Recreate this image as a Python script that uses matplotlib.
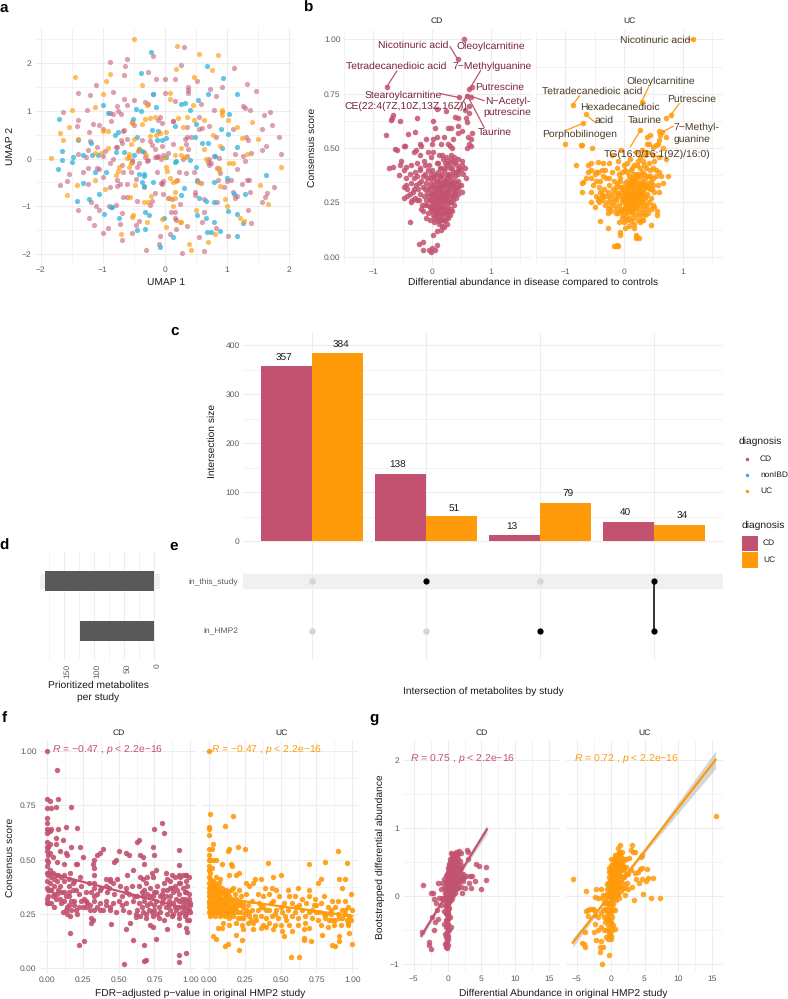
import numpy as np
import matplotlib
matplotlib.use('Agg')
import matplotlib.pyplot as plt
from matplotlib.patches import Rectangle
from matplotlib.transforms import ScaledTranslation

plt.rcParams['font.family'] = ['Liberation Sans', 'DejaVu Sans']
plt.rcParams['mathtext.fontset'] = 'custom'
plt.rcParams['mathtext.it'] = 'Liberation Sans:italic'
plt.rcParams['mathtext.rm'] = 'Liberation Sans'
plt.rcParams['text.hinting'] = 'no_hinting'

W, H = 788, 999
PINK = '#C2526F'
ORANGE = '#FF9A0A'
BLUE = '#2FB4DC'
GRID = '#EDEDED'
TICK = '#5A5A5A'

# panel a, UMAP coordinates
umap_uc = np.array([[-0.5,2.5],[0.2,2.36],[0.55,2.2],[0.86,2.18],[0.77,1.86],[0.18,1.88],[-0.88,1.78],[-1.45,1.72],[-0.95,1.63],[0.47,1.72],
    [-0.37,1.55],[-1.0,1.35],[0.09,1.37],[0.09,1.25],[0.46,1.12],[-1.13,1.08],[-1.49,1.03],[-0.28,1.13],[0.93,1.03],[0.93,0.97],
    [0.93,0.92],[0.22,0.85],[0.36,0.88],[-0.32,0.84],[-0.24,0.86],[-0.15,0.87],[1.03,0.8],[0.63,0.82],[0.47,0.8],[-1.54,0.67],
    [1.16,0.66],[1.41,0.77],[-1.69,0.54],[-1.0,0.57],[-0.91,0.58],[-0.52,0.75],[-0.37,0.72],[0.3,0.66],[0.78,0.49],[-0.24,0.48],
    [-0.07,0.53],[0.03,0.55],[-0.14,0.5],[1.25,0.43],[1.5,0.42],[-1.39,0.41],[-0.55,0.3],[-0.49,0.42],[-1.64,0.38],[-0.92,0.22],
    [-0.41,0.2],[0.27,0.22],[0.63,0.21],[0.9,0.26],[1.33,0.1],[-1.12,0.12],[-1.03,0.12],[-0.58,0.1],[-0.3,0.08],[0.17,0.08],
    [0.26,0.08],[0.33,0.03],[0.01,0.03],[-1.84,0.02],[-0.57,0.04],[-0.6,0.01],[0.67,-0.01],[1.04,-0.1],[1.1,-0.1],[1.87,-0.18],
    [0.87,-0.2],[0.88,-0.24],[-0.55,-0.1],[-0.57,-0.17],[-0.73,-0.17],[-0.75,-0.25],[-0.78,-0.35],[0.02,-0.18],[0.04,-0.27],[0.08,-0.4],
    [0.18,-0.46],[-1.41,-0.56],[-1.13,-0.44],[-0.96,-0.63],[-0.48,-0.55],[0.13,-0.5],[0.54,-0.5],[0.9,-0.57],[1.53,-0.55],[0.97,-0.84],
    [-1.57,-0.77],[-0.56,-0.81],[-0.22,-0.79],[0.07,-0.82],[0.16,-0.83],[0.16,-0.7],[1.67,-0.96],[-0.33,-0.92],[-0.27,-0.92],[0.14,-0.99],
    [1.0,-0.99],[0.5,-1.08],[-0.51,-1.18],[-0.53,-1.22],[-0.04,-1.27],[-0.28,-1.33],[0.24,-1.33],[0.27,-1.34],[1.21,-1.24],[1.28,-1.31],
    [0.03,-1.44],[-0.7,-1.59],[0.82,-1.59],[0.7,-1.75],[0.39,-1.79],[0.43,-1.92]])
umap_nonibd = np.array([[-0.22,2.24],[0.68,1.94],[-0.38,1.8],[0.94,1.69],[-0.19,1.36],[0.7,1.36],[1.16,1.35],[0.54,1.23],[0.26,1.14],[0.33,1.17],
    [-1.0,1.12],[-0.46,1.05],[-0.38,0.99],[-0.14,1.08],[0.41,1.01],[-0.92,0.95],[1.04,0.94],[-1.71,0.84],[-0.51,0.84],[0.17,0.68],
    [0.51,0.72],[0.91,0.63],[1.03,0.52],[-0.2,0.6],[-0.1,0.57],[-0.8,0.5],[-0.75,0.55],[-0.44,0.46],[-0.13,0.38],[-0.05,0.38],
    [0.03,0.43],[0.49,0.46],[-1.39,0.38],[-1.19,0.33],[0.6,0.33],[0.7,0.33],[0.93,0.22],[1.16,0.25],[-1.66,0.15],[-0.79,0.14],
    [-0.66,0.14],[-0.41,0.2],[-0.37,0.16],[-1.31,0.08],[-1.17,0.08],[-1.08,0.08],[-0.5,0.08],[0.03,0.03],[0.18,-0.05],[0.17,-0.08],
    [0.41,-0.03],[0.82,0.05],[-1.65,-0.02],[-1.48,0.03],[-1.49,-0.08],[-1.72,-0.21],[-1.13,-0.28],[-0.94,-0.29],[-0.41,-0.32],[-0.33,-0.32],
    [-0.34,-0.37],[0.5,-0.18],[1.0,-0.4],[1.63,-0.34],[0.53,-0.47],[0.8,-0.5],[-1.32,-0.52],[-0.37,-0.5],[-0.18,-0.5],[-0.34,-0.57],
    [0.31,-0.62],[0.27,-0.76],[1.12,-0.74],[1.3,-0.74],[-1.06,-0.74],[-1.22,-0.84],[0.55,-0.83],[0.67,-0.88],[0.8,-0.91],[-1.41,-0.89],
    [-0.87,-1.01],[-0.85,-1.02],[-0.32,-1.13],[-0.25,-1.18],[-0.98,-1.16],[-0.74,-1.25],[0.52,-1.19],[0.66,-1.24],[1.03,-1.09],[1.16,-1.17],
    [-0.01,-1.25],[0.8,-1.33],[1.26,-1.35],[-0.44,-1.5],[-0.31,-1.47],[0.68,-1.55],[0.74,-1.53],[0.89,-1.52],[1.16,-1.62],[0.14,-1.64],[-0.07,-1.85]])
umap_cd = np.array([[0.32,2.35],[-0.19,2.15],[-0.61,2.08],[-0.88,2.03],[-0.64,1.95],[0.27,1.97],[1.12,1.91],[-0.26,1.81],[-0.66,1.76],[-0.14,1.66],
    [0.0,1.68],[0.16,1.67],[0.52,1.63],[0.37,1.5],[0.37,1.43],[0.73,1.46],[0.92,1.5],[1.33,1.56],[1.48,1.42],[-1.39,1.38],
    [-1.11,1.54],[-1.2,1.34],[-0.83,1.39],[-0.19,1.36],[0.0,1.38],[0.37,1.38],[0.83,1.31],[-0.66,1.25],[-0.49,1.24],[-0.32,1.19],
    [-0.27,1.15],[-0.61,1.12],[-0.77,1.1],[-1.25,1.03],[0.16,1.21],[0.59,1.14],[0.8,1.02],[1.26,1.1],[1.3,1.06],[1.38,1.01],
    [1.7,0.98],[1.6,0.91],[-1.64,0.98],[-0.88,0.96],[-0.83,0.93],[-0.75,1.0],[-0.7,0.93],[-0.08,0.88],[-0.1,0.82],[0.14,0.78],
    [0.56,0.87],[0.6,0.65],[0.56,0.63],[0.71,0.68],[1.1,0.62],[1.57,0.62],[1.73,0.7],[-1.39,0.8],[-1.41,0.69],[-1.15,0.73],
    [-1.06,0.7],[-1.0,0.62],[-1.22,0.56],[-0.86,0.78],[-0.66,0.6],[-0.67,0.57],[-0.5,0.7],[-0.52,0.77],[-0.05,0.74],[0.13,0.78],
    [0.36,0.66],[1.31,0.46],[1.34,0.39],[1.84,0.46],[-0.6,0.42],[-0.71,0.4],[-0.68,0.32],[-0.36,0.4],[-0.24,0.37],[-0.05,0.27],
    [0.14,0.31],[0.36,0.46],[0.42,0.45],[0.33,0.42],[0.83,0.45],[0.34,0.3],[0.38,0.2],[-1.09,0.24],[-1.21,0.37],[-1.24,0.18],
    [-0.96,0.17],[-0.78,0.24],[-0.76,0.24],[-0.43,0.15],[-0.33,0.13],[-0.15,0.2],[-0.2,0.29],[0.05,0.12],[0.72,0.0],[0.8,0.05],
    [0.87,0.02],[1.13,0.1],[1.26,0.05],[1.4,0.11],[1.57,0.18],[1.63,0.27],[1.88,0.1],[-1.4,0.1],[-1.26,0.04],[-1.0,0.05],
    [-0.83,0.0],[-0.53,-0.02],[-0.52,-0.07],[-0.32,0.03],[-0.26,-0.03],[-0.15,0.03],[-0.12,0.04],[-0.1,0.06],[-0.06,0.0],[-0.02,0.07],
    [0.29,0.0],[0.36,0.05],[0.7,-0.08],[0.75,-0.1],[1.17,-0.22],[1.3,-0.04],[-1.23,-0.2],[-1.09,-0.19],[-1.05,-0.22],[-0.88,-0.09],
    [-0.69,-0.13],[-0.45,-0.18],[-0.42,-0.09],[-0.29,-0.04],[-0.12,-0.28],[0.23,-0.29],[0.34,-0.3],[0.48,-0.28],[0.72,-0.13],[0.84,-0.2],
    [0.9,-0.3],[1.0,-0.47],[1.07,-0.44],[-1.54,-0.32],[-1.32,-0.28],[-0.99,-0.38],[-0.67,-0.28],[-0.54,-0.28],[-0.76,-0.44],[-0.72,-0.54],
    [-0.46,-0.42],[-0.06,-0.52],[-0.04,-0.53],[-0.03,-0.48],[0.2,-0.45],[0.53,-0.45],[0.58,-0.52],[0.86,-0.45],[0.96,-0.6],[1.24,-0.54],
    [1.33,-0.45],[1.36,-0.44],[1.38,-0.7],[1.62,-0.81],[1.65,-0.72],[1.57,-0.91],[1.76,-0.6],[-1.69,-0.56],[-1.58,-0.48],[-1.24,-0.53],
    [-0.88,-0.6],[-0.77,-0.58],[-0.61,-0.53],[-0.67,-0.8],[-0.61,-0.81],[-0.34,-0.6],[-0.16,-0.72],[-0.03,-0.74],[0.05,-0.83],[0.12,-0.85],
    [0.49,-0.7],[0.49,-0.77],[0.63,-0.85],[0.85,-0.92],[1.11,-0.7],[1.13,-0.83],[1.16,-0.78],[-1.18,-0.9],[-1.1,-0.99],[-1.06,-1.07],
    [-0.78,-0.98],[-0.9,-1.0],[-0.45,-0.88],[-0.21,-0.88],[-0.24,-0.97],[0.1,-1.12],[0.17,-1.13],[0.24,-0.96],[0.63,-1.13],[1.35,-1.07],
    [-1.4,-1.07],[-1.22,-1.25],[-0.69,-1.15],[-0.42,-1.3],[-0.46,-1.4],[0.17,-1.25],[0.19,-1.28],[0.36,-1.41],[0.6,-1.32],[0.83,-1.45],
    [1.39,-1.36],[-1.14,-1.4],[-0.91,-1.45],[-1.0,-1.57],[-0.72,-1.37],[-0.52,-1.57],[-0.08,-1.63],[0.08,-1.58],[0.18,-1.48],[0.56,-1.65],
    [1.03,-1.63],[-0.69,-1.7],[-0.3,-1.91],[-0.09,-1.8],[0.28,-1.97],[0.64,-1.94]])

# panel b, differential abundance vs consensus score
abund_cd = np.array([[0.55,1.0],[0.44,0.91],[-0.77,0.78],[0.63,0.77],[0.68,0.78],[0.47,0.735],[0.6,0.74],[0.66,0.735],[0.63,0.695],[0.56,0.675],
    [0.63,0.66],[0.39,0.645],[0.44,0.64],[0.58,0.64],[-0.68,0.64],[-0.69,0.63],[-0.67,0.65],[-0.54,0.625],[-0.25,0.64],[0.02,0.625],
    [0.08,0.68],[0.24,0.67],[0.6,0.62],[-0.79,0.56],[-0.4,0.565],[-0.29,0.575],[0.05,0.59],[0.28,0.59],[0.32,0.59],[0.45,0.6],
    [0.52,0.58],[0.68,0.57],[0.44,0.57],[0.36,0.54],[0.2,0.55],[0.02,0.54],[0.08,0.55],[0.62,0.55],[0.66,0.54],[-0.63,0.495],
    [-0.6,0.49],[-0.48,0.51],[-0.46,0.51],[-0.2,0.52],[-0.19,0.51],[-0.1,0.54],[0.0,0.52],[0.15,0.52],[0.28,0.52],[0.31,0.51],
    [0.35,0.5],[0.64,0.52],[0.67,0.51],[0.6,0.5],[-0.74,0.41],[-0.66,0.415],[-0.53,0.44],[-0.54,0.42],[-0.45,0.415],[-0.47,0.4],
    [-0.3,0.48],[-0.27,0.49],[-0.2,0.47],[-0.07,0.48],[-0.02,0.46],[0.02,0.48],[0.12,0.47],[-0.25,0.43],[-0.14,0.44],[-0.05,0.42],
    [0.0,0.4],[0.08,0.43],[0.13,0.41],[0.19,0.45],[0.28,0.44],[0.33,0.45],[0.38,0.43],[0.43,0.42],[0.52,0.42],[0.57,0.41],
    [0.23,0.41],[0.3,0.41],[0.36,0.39],[0.41,0.39],[0.47,0.41],[0.53,0.38],[0.58,0.36],[0.26,0.38],[0.18,0.38],[0.12,0.37],
    [0.06,0.38],[0.01,0.36],[-0.04,0.36],[-0.11,0.38],[-0.2,0.4],[-0.25,0.37],[-0.3,0.36],[-0.37,0.38],[-0.45,0.36],[-0.56,0.375],
    [-0.45,0.33],[-0.42,0.31],[-0.36,0.34],[-0.33,0.3],[-0.38,0.29],[-0.48,0.32],[-0.27,0.33],[-0.22,0.34],[-0.16,0.32],[-0.1,0.34],
    [-0.05,0.32],[0.02,0.33],[0.07,0.35],[0.13,0.34],[0.2,0.35],[0.26,0.34],[0.33,0.35],[0.38,0.35],[0.45,0.35],[0.5,0.33],
    [0.07,0.31],[0.13,0.31],[0.19,0.32],[0.25,0.31],[0.31,0.32],[0.37,0.31],[0.42,0.32],[0.05,0.28],[0.1,0.28],[0.16,0.29],
    [0.22,0.28],[0.28,0.29],[0.34,0.28],[0.39,0.29],[0.51,0.3],[-0.02,0.29],[-0.08,0.3],[-0.14,0.28],[-0.21,0.29],[-0.26,0.26],
    [-0.34,0.26],[-0.36,0.25],[-0.47,0.27],[-0.17,0.24],[-0.1,0.26],[-0.04,0.26],[0.02,0.25],[0.08,0.25],[0.13,0.26],[0.19,0.25],
    [0.25,0.26],[0.31,0.25],[0.36,0.26],[-0.02,0.22],[0.04,0.22],[0.09,0.22],[0.15,0.23],[0.21,0.22],[0.27,0.23],[0.33,0.22],
    [-0.18,0.22],[-0.16,0.21],[-0.07,0.2],[0.01,0.19],[0.07,0.19],[0.12,0.2],[0.18,0.19],[0.24,0.2],[0.3,0.19],[0.04,0.16],
    [0.1,0.165],[0.16,0.17],[0.22,0.165],[0.27,0.18],[-0.37,0.16],[0.2,0.135],[0.16,0.125],[0.09,0.12],[0.02,0.1],[-0.22,0.06],
    [-0.16,0.07],[-0.16,0.03],[-0.05,0.03],[-0.02,0.02],[0.06,0.03],[0.08,0.055],[0.0,0.04]])
abund_cd_dense = np.array([[0.1,0.43],[0.16,0.41],[0.22,0.43],[0.26,0.42],[0.31,0.43],[0.35,0.41],[0.4,0.44],[0.45,0.4],[0.5,0.4],[0.11,0.39],
    [0.15,0.37],[0.2,0.4],[0.24,0.36],[0.29,0.38],[0.33,0.37],[0.39,0.37],[0.44,0.38],[0.03,0.37],[0.09,0.35],[0.14,0.36],
    [0.17,0.34],[0.23,0.35],[0.28,0.36],[0.31,0.34],[0.36,0.33],[0.41,0.34],[0.47,0.33],[-0.01,0.34],[0.04,0.32],[0.1,0.33],
    [0.16,0.32],[0.21,0.33],[0.27,0.33],[0.33,0.33],[0.39,0.32],[0.45,0.31],[-0.03,0.31],[0.02,0.3],[0.08,0.3],[0.11,0.32],
    [0.15,0.3],[0.2,0.3],[0.24,0.3],[0.29,0.31],[0.34,0.3],[0.4,0.3],[0.44,0.29],[-0.06,0.28],[0.0,0.28],[0.03,0.29],
    [0.07,0.27],[0.12,0.29],[0.14,0.27],[0.19,0.28],[0.24,0.27],[0.26,0.29],[0.31,0.27],[0.36,0.28],[0.41,0.27],[-0.08,0.24],
    [-0.01,0.26],[0.0,0.24],[0.05,0.26],[0.1,0.25],[0.11,0.27],[0.16,0.26],[0.21,0.26],[0.23,0.24],[0.28,0.25],[0.33,0.25],
    [0.38,0.24],[-0.03,0.23],[0.02,0.23],[0.06,0.24],[0.11,0.23],[0.13,0.24],[0.18,0.23],[0.24,0.22],[0.29,0.21],[0.35,0.21],
    [0.0,0.21],[0.05,0.2],[0.08,0.21],[0.13,0.22],[0.16,0.2],[0.21,0.2],[0.27,0.2],[0.03,0.18],[0.09,0.18],[0.14,0.18],
    [0.19,0.17],[0.24,0.18],[-0.1,0.18],[-0.04,0.17],[0.12,0.15],[0.18,0.14],[0.26,0.15],[-0.21,0.41],[-0.12,0.42],[-0.06,0.4],
    [-0.02,0.38],[-0.16,0.37],[-0.08,0.36],[-0.29,0.39],[-0.35,0.42],[-0.19,0.35],[-0.12,0.31],[-0.24,0.31],[-0.3,0.31],[-0.43,0.28],
    [-0.29,0.27],[-0.22,0.26],[-0.12,0.24],[0.17,0.47],[0.24,0.46],[0.32,0.47],[0.38,0.46],[0.44,0.45],[0.51,0.44]])
abund_uc = np.array([[1.17,1.0],[0.3,0.71],[-0.87,0.7],[0.8,0.65],[0.71,0.64],[-0.64,0.655],[-0.7,0.615],[0.28,0.585],[0.65,0.575],[0.6,0.58],
    [0.44,0.56],[0.4,0.55],[0.62,0.56],[0.72,0.55],[0.6,0.535],[0.58,0.52],[0.4,0.52],[0.43,0.52],[0.55,0.515],[0.49,0.505],
    [-1.0,0.52],[-0.73,0.515],[-0.71,0.515],[-0.54,0.5],[-0.05,0.49],[0.2,0.48],[0.3,0.49],[0.39,0.48],[0.66,0.5],[0.5,0.47],
    [-0.2,0.47],[-0.1,0.44],[0.1,0.45],[0.28,0.46],[0.33,0.44],[0.42,0.43],[0.51,0.44],[0.59,0.46],[0.72,0.45],[-0.82,0.42],
    [-0.62,0.42],[-0.57,0.43],[-0.45,0.435],[-0.36,0.43],[-0.25,0.43],[-0.12,0.41],[0.0,0.42],[0.17,0.42],[0.27,0.41],[0.38,0.41],
    [0.5,0.41],[-0.62,0.39],[-0.56,0.4],[-0.5,0.38],[-0.44,0.39],[-0.32,0.4],[-0.2,0.39],[-0.08,0.38],[0.05,0.39],[0.15,0.38],
    [0.24,0.38],[0.34,0.38],[0.44,0.37],[0.54,0.37],[0.64,0.37],[0.75,0.37],[0.6,0.39],[-0.72,0.34],[-0.7,0.345],[-0.57,0.36],
    [-0.48,0.35],[-0.4,0.35],[-0.3,0.36],[-0.17,0.35],[-0.06,0.35],[0.05,0.35],[0.14,0.35],[0.22,0.36],[0.3,0.35],[0.4,0.34],
    [0.5,0.33],[0.58,0.33],[0.66,0.34],[-0.72,0.3],[-0.57,0.3],[-0.42,0.32],[-0.34,0.31],[-0.25,0.33],[-0.13,0.32],[-0.03,0.32],
    [0.08,0.32],[0.16,0.33],[0.25,0.32],[0.34,0.31],[0.44,0.31],[0.52,0.3],[0.6,0.3],[-0.47,0.28],[-0.43,0.27],[-0.37,0.29],
    [-0.29,0.28],[-0.2,0.29],[-0.1,0.29],[0.0,0.29],[0.08,0.29],[0.15,0.3],[0.22,0.29],[0.3,0.28],[0.38,0.28],[0.46,0.27],
    [-0.56,0.25],[-0.42,0.25],[-0.36,0.26],[-0.28,0.25],[-0.2,0.25],[-0.13,0.26],[-0.04,0.26],[0.03,0.26],[0.1,0.26],[0.18,0.26],
    [0.26,0.26],[0.33,0.25],[0.42,0.25],[-0.28,0.22],[-0.22,0.21],[-0.14,0.22],[-0.05,0.22],[0.02,0.23],[0.09,0.23],[0.16,0.23],
    [0.22,0.23],[0.3,0.22],[0.38,0.22],[0.46,0.22],[0.56,0.21],[-0.27,0.2],[-0.1,0.2],[-0.02,0.19],[0.06,0.2],[0.13,0.2],
    [0.2,0.19],[0.28,0.19],[0.36,0.19],[0.56,0.19],[-0.41,0.165],[-0.08,0.16],[0.0,0.16],[0.06,0.17],[0.12,0.165],[0.18,0.15],
    [0.27,0.16],[0.32,0.17],[0.47,0.145],[-0.28,0.13],[0.02,0.13],[0.09,0.14],[0.17,0.13],[-0.06,0.115],[-0.07,0.1],[0.2,0.1],
    [0.2,0.085],[0.22,0.09],[0.26,0.085],[-0.17,0.05],[-0.14,0.05],[-0.12,0.055],[-0.1,0.05]])
abund_uc_dense = np.array([[0.12,0.4],[0.2,0.38],[0.31,0.39],[0.08,0.37],[0.12,0.36],[0.18,0.36],[0.27,0.37],[0.36,0.36],[0.41,0.37],[0.49,0.36],
    [0.02,0.34],[0.08,0.34],[0.11,0.33],[0.16,0.35],[0.2,0.34],[0.24,0.34],[0.28,0.33],[0.32,0.34],[0.36,0.33],[0.44,0.33],
    [-0.06,0.32],[0.0,0.31],[0.05,0.32],[0.11,0.31],[0.14,0.32],[0.18,0.31],[0.21,0.32],[0.27,0.31],[0.3,0.3],[0.36,0.32],
    [0.41,0.32],[0.48,0.31],[-0.14,0.3],[-0.05,0.3],[0.03,0.3],[0.06,0.3],[0.1,0.29],[0.13,0.29],[0.17,0.28],[0.2,0.3],
    [0.25,0.3],[0.28,0.28],[0.33,0.29],[0.4,0.29],[-0.24,0.27],[-0.16,0.27],[-0.08,0.28],[-0.02,0.27],[0.01,0.28],[0.05,0.27],
    [0.08,0.27],[0.12,0.28],[0.15,0.27],[0.19,0.28],[0.23,0.27],[0.26,0.28],[0.31,0.26],[0.36,0.27],[-0.33,0.24],[-0.24,0.23],
    [-0.17,0.24],[-0.08,0.24],[-0.01,0.25],[0.04,0.24],[0.07,0.25],[0.11,0.24],[0.14,0.25],[0.17,0.24],[0.21,0.25],[0.25,0.24],
    [0.29,0.25],[0.35,0.24],[0.4,0.24],[0.49,0.24],[-0.14,0.2],[-0.05,0.21],[0.0,0.21],[0.04,0.22],[0.07,0.21],[0.11,0.22],
    [0.14,0.21],[0.18,0.22],[0.24,0.21],[0.33,0.2],[0.41,0.2],[0.52,0.23],[-0.04,0.18],[0.03,0.18],[0.09,0.18],[0.15,0.18],
    [0.24,0.17],[0.3,0.17],[-0.44,0.26],[-0.5,0.23],[-0.35,0.28],[-0.41,0.3],[-0.27,0.3],[-0.18,0.31],[-0.11,0.34],[-0.26,0.36],
    [-0.35,0.37],[-0.52,0.33],[-0.64,0.36],[-0.47,0.39],[-0.38,0.4],[-0.06,0.36],[-0.03,0.39],[0.02,0.4],[0.14,0.41],[0.23,0.42],
    [0.34,0.42],[0.44,0.4],[0.55,0.4],[0.36,0.47],[0.24,0.44],[0.46,0.35],[0.06,0.43]])

b_cd_labels = ['Nicotinuric acid', 'Oleoylcarnitine', 'Tetradecanedioic acid', '7\u2212Methylguanine', 'Putrescine',
               'Stearoylcarnitine', 'N\u2212Acetyl-\nputrescine', 'CE(22:4(7Z,10Z,13Z,16Z))', 'Taurine']
b_cd_label_x = [-0.326, 1.01, -0.617, 1.034, 1.16, -0.497, 1.29, -0.45, 1.08]
b_cd_label_y = [0.974, 0.966, 0.877, 0.874, 0.781, 0.742, 0.689, 0.692, 0.574]
b_cd_links = [[0.31, 0.966, 0.44, 0.908], [-0.6, 0.854, -0.77, 0.782], [0.83, 0.856, 0.64, 0.77],
              [0.15, 0.75, 0.47, 0.732], [0.89, 0.718, 0.6, 0.744], [0.89, 0.595, 0.6, 0.744], [0.45, 0.675, 0.6, 0.744]]
b_uc_labels = ['Nicotinuric acid', 'Oleoylcarnitine', 'Tetradecanedioic acid', 'Putrescine', 'Hexadecanedioic', 'acid',
               'Taurine', '7\u2212Methyl-', 'guanine', 'Porphobilinogen', 'TG(16:0/16:1(9Z)/16:0)']
b_uc_label_x = [0.54, 0.636, -0.54, 1.148, -0.074, -0.347, 0.352, 1.233, 1.159, -0.756, 0.574]
b_uc_label_y = [0.997, 0.805, 0.759, 0.725, 0.686, 0.629, 0.627, 0.597, 0.538, 0.564, 0.469]
b_uc_links = [[1.07, 1.0, 1.17, 1.0], [0.42, 0.78, 0.3, 0.712], [-0.76, 0.739, -0.87, 0.7], [0.94, 0.703, 0.8, 0.653],
              [-0.49, 0.617, -0.6, 0.642], [-1.0, 0.58, -0.69, 0.615], [0.11, 0.506, 0.28, 0.581], [0.84, 0.6, 0.64, 0.572]]

# panel c and e, upset plot
intersections = [0, 1, 2, 3]
cd_sizes = [357, 138, 13, 40]
uc_sizes = [384, 51, 79, 34]
set_names = ['in_HMP2', 'in_this_study']
members = [[], [1], [0], [0, 1]]

# panel d
study_sizes = [124, 182]

# panel f, FDR p value vs consensus score
fdr_cd = np.array([[0.0,1.0],[0.07,0.91],[0.0,0.78],[0.02,0.77],[0.08,0.78],[0.0,0.735],[0.03,0.735],[0.06,0.74],[0.17,0.74],[0.0,0.69],
    [0.0,0.67],[0.0,0.64],[0.01,0.63],[0.02,0.63],[0.03,0.64],[0.08,0.64],[0.13,0.65],[0.21,0.645],[0.8,0.67],[0.75,0.64],
    [0.82,0.62],[0.64,0.59],[0.63,0.58],[0.06,0.6],[0.11,0.59],[0.0,0.58],[0.01,0.56],[0.02,0.57],[0.06,0.57],[0.09,0.54],
    [0.17,0.56],[0.23,0.56],[0.39,0.55],[0.5,0.54],[0.55,0.53],[0.57,0.52],[0.65,0.52],[0.67,0.51],[0.74,0.56],[0.92,0.545],
    [0.0,0.54],[0.01,0.52],[0.02,0.53],[0.04,0.51],[0.13,0.53],[0.14,0.52],[0.25,0.51],[0.33,0.5],[0.35,0.52],[0.37,0.53],
    [0.47,0.49],[0.48,0.5],[0.75,0.52],[0.0,0.47],[0.02,0.45],[0.04,0.44],[0.07,0.49],[0.08,0.43],[0.12,0.48],[0.2,0.48],
    [0.21,0.48],[0.32,0.48],[0.33,0.46],[0.56,0.43],[0.6,0.45],[0.68,0.48],[0.73,0.44],[0.76,0.45],[0.92,0.475],[0.0,0.44],
    [0.03,0.42],[0.06,0.43],[0.1,0.42],[0.12,0.43],[0.16,0.44],[0.23,0.42],[0.33,0.43],[0.41,0.41],[0.44,0.41],[0.49,0.41],
    [0.65,0.42],[0.67,0.41],[0.7,0.42],[0.74,0.42],[0.83,0.44],[0.87,0.43],[0.92,0.43],[0.97,0.43],[0.99,0.42],[0.0,0.4],
    [0.02,0.39],[0.05,0.38],[0.09,0.38],[0.12,0.4],[0.15,0.38],[0.19,0.4],[0.24,0.38],[0.29,0.39],[0.33,0.39],[0.38,0.37],
    [0.43,0.37],[0.46,0.39],[0.51,0.38],[0.55,0.37],[0.59,0.38],[0.64,0.38],[0.69,0.39],[0.72,0.37],[0.77,0.38],[0.82,0.39],
    [0.86,0.4],[0.89,0.38],[0.93,0.39],[0.97,0.4],[0.02,0.36],[0.05,0.34],[0.08,0.36],[0.12,0.35],[0.15,0.35],[0.18,0.36],
    [0.22,0.34],[0.27,0.35],[0.31,0.35],[0.35,0.34],[0.42,0.35],[0.47,0.34],[0.52,0.33],[0.57,0.34],[0.61,0.33],[0.66,0.35],
    [0.7,0.34],[0.75,0.35],[0.8,0.34],[0.84,0.36],[0.88,0.35],[0.92,0.34],[0.96,0.35],[0.99,0.34],[0.0,0.32],[0.03,0.3],
    [0.06,0.32],[0.09,0.32],[0.12,0.31],[0.15,0.33],[0.19,0.31],[0.24,0.31],[0.28,0.3],[0.33,0.31],[0.37,0.3],[0.41,0.31],
    [0.46,0.3],[0.5,0.31],[0.55,0.3],[0.6,0.31],[0.64,0.3],[0.68,0.31],[0.72,0.3],[0.76,0.31],[0.81,0.32],[0.85,0.31],
    [0.88,0.3],[0.92,0.31],[0.95,0.3],[0.98,0.31],[1.0,0.3],[0.05,0.28],[0.11,0.26],[0.14,0.28],[0.17,0.27],[0.2,0.27],
    [0.25,0.28],[0.3,0.27],[0.35,0.28],[0.39,0.27],[0.44,0.27],[0.48,0.26],[0.53,0.27],[0.57,0.26],[0.63,0.27],[0.67,0.26],
    [0.71,0.27],[0.75,0.27],[0.79,0.26],[0.83,0.28],[0.86,0.27],[0.9,0.27],[0.94,0.26],[0.97,0.27],[1.0,0.26],[0.14,0.25],
    [0.16,0.24],[0.21,0.25],[0.31,0.23],[0.31,0.21],[0.32,0.22],[0.45,0.205],[0.58,0.21],[0.62,0.235],[0.65,0.24],[0.69,0.23],
    [0.74,0.24],[0.78,0.23],[0.82,0.22],[0.87,0.24],[0.92,0.23],[0.96,0.24],[0.99,0.22],[0.72,0.2],[0.74,0.19],[0.84,0.18],
    [0.92,0.2],[0.97,0.185],[0.98,0.165],[0.55,0.18],[0.76,0.135],[0.16,0.16],[0.22,0.105],[0.26,0.125],[0.6,0.13],[0.68,0.105],
    [0.92,0.06],[0.97,0.07],[0.68,0.035],[0.69,0.04],[0.54,0.02],[0.92,0.03]])
fdr_cd_dense = np.array([[0.01,0.36],[0.01,0.3],[0.03,0.36],[0.04,0.33],[0.07,0.34],[0.1,0.35],[0.1,0.3],[0.13,0.33],[0.15,0.29],[0.17,0.31],
    [0.13,0.27],[0.19,0.29],[0.22,0.28],[0.26,0.32],[0.3,0.29],[0.33,0.37],[0.33,0.33],[0.33,0.27],[0.37,0.36],[0.41,0.38],
    [0.44,0.4],[0.52,0.29],[0.62,0.25],[0.66,0.28],[0.67,0.33],[0.69,0.25],[0.7,0.29],[0.73,0.26],[0.74,0.33],[0.75,0.29],
    [0.77,0.25],[0.78,0.28],[0.8,0.3],[0.81,0.36],[0.83,0.33],[0.84,0.25],[0.85,0.29],[0.86,0.33],[0.87,0.37],[0.88,0.25],
    [0.89,0.42],[0.89,0.28],[0.9,0.32],[0.91,0.36],[0.92,0.28],[0.92,0.25],[0.93,0.42],[0.94,0.32],[0.95,0.28],[0.95,0.37],
    [0.96,0.32],[0.97,0.35],[0.97,0.25],[0.98,0.29],[0.98,0.38],[0.99,0.27],[0.99,0.32],[1.0,0.29],[0.98,0.22],[0.97,0.43],
    [0.95,0.43],[0.92,0.39],[0.86,0.37],[0.84,0.41],[0.79,0.33],[0.76,0.35],[0.72,0.33],[0.68,0.36],[0.63,0.33],[0.55,0.35],
    [0.44,0.28],[0.41,0.29],[0.37,0.27],[0.27,0.28],[0.27,0.31],[0.2,0.36],[0.18,0.39],[0.15,0.41],[0.07,0.4],[0.05,0.41],
    [0.01,0.43],[0.01,0.33],[0.0,0.37],[0.0,0.3],[0.0,0.62],[0.0,0.5],[0.01,0.49],[0.0,0.56]])
fdr_uc = np.array([[0.0,1.0],[0.01,0.71],[0.17,0.7],[0.11,0.655],[0.0,0.65],[0.0,0.64],[0.0,0.615],[0.0,0.55],[0.02,0.55],[0.03,0.57],
    [0.13,0.54],[0.14,0.55],[0.2,0.56],[0.25,0.55],[0.9,0.54],[0.0,0.52],[0.01,0.5],[0.03,0.5],[0.05,0.5],[0.09,0.48],
    [0.0,0.47],[0.02,0.46],[0.15,0.48],[0.16,0.47],[0.41,0.485],[0.7,0.48],[0.81,0.49],[0.96,0.485],[0.0,0.42],[0.01,0.41],
    [0.03,0.4],[0.05,0.42],[0.08,0.41],[0.14,0.43],[0.19,0.43],[0.21,0.44],[0.45,0.42],[0.5,0.43],[0.32,0.41],[0.36,0.41],
    [0.78,0.41],[0.76,0.39],[0.91,0.41],[0.95,0.41],[0.26,0.39],[0.28,0.38],[0.02,0.38],[0.04,0.37],[0.06,0.38],[0.09,0.37],
    [0.12,0.36],[0.17,0.37],[0.21,0.36],[0.31,0.39],[0.39,0.37],[0.44,0.37],[0.47,0.36],[0.55,0.36],[0.62,0.37],[0.7,0.36],
    [0.93,0.37],[0.99,0.34],[0.0,0.35],[0.02,0.34],[0.04,0.35],[0.06,0.34],[0.08,0.33],[0.11,0.34],[0.14,0.33],[0.18,0.34],
    [0.22,0.33],[0.26,0.34],[0.34,0.34],[0.38,0.33],[0.42,0.34],[0.49,0.33],[0.56,0.33],[0.6,0.33],[0.65,0.32],[0.7,0.33],
    [0.74,0.32],[0.8,0.33],[0.86,0.31],[0.9,0.31],[0.95,0.31],[0.0,0.31],[0.02,0.3],[0.04,0.31],[0.07,0.3],[0.09,0.29],
    [0.12,0.3],[0.15,0.31],[0.18,0.3],[0.21,0.31],[0.24,0.3],[0.3,0.31],[0.35,0.3],[0.45,0.31],[0.52,0.3],[0.58,0.3],
    [0.63,0.29],[0.68,0.3],[0.73,0.29],[0.78,0.3],[0.83,0.28],[0.88,0.28],[0.93,0.27],[0.97,0.28],[0.0,0.28],[0.01,0.26],
    [0.03,0.27],[0.05,0.28],[0.07,0.26],[0.1,0.27],[0.13,0.27],[0.16,0.28],[0.19,0.27],[0.22,0.26],[0.26,0.27],[0.3,0.27],
    [0.34,0.27],[0.38,0.28],[0.42,0.27],[0.47,0.27],[0.51,0.26],[0.55,0.27],[0.6,0.26],[0.65,0.27],[0.7,0.26],[0.75,0.26],
    [0.8,0.25],[0.85,0.25],[0.9,0.25],[0.95,0.25],[1.0,0.27],[0.01,0.24],[0.04,0.24],[0.08,0.24],[0.11,0.24],[0.14,0.23],
    [0.17,0.24],[0.2,0.23],[0.24,0.23],[0.28,0.24],[0.32,0.24],[0.36,0.24],[0.4,0.23],[0.44,0.24],[0.48,0.23],[0.53,0.24],
    [0.58,0.24],[0.62,0.23],[0.67,0.24],[0.72,0.23],[0.76,0.22],[0.81,0.23],[0.86,0.22],[0.91,0.23],[0.96,0.22],[0.99,0.22],
    [0.1,0.21],[0.14,0.2],[0.19,0.21],[0.23,0.2],[0.27,0.21],[0.31,0.21],[0.38,0.2],[0.42,0.21],[0.46,0.2],[0.5,0.2],
    [0.56,0.2],[0.62,0.2],[0.66,0.18],[0.7,0.185],[0.78,0.2],[0.83,0.19],[0.87,0.2],[0.92,0.2],[0.97,0.21],[0.06,0.185],
    [0.09,0.185],[0.24,0.18],[0.31,0.18],[0.36,0.185],[0.4,0.19],[0.45,0.18],[0.51,0.17],[0.52,0.15],[0.58,0.17],[0.66,0.14],
    [0.66,0.13],[0.71,0.125],[0.79,0.155],[0.91,0.15],[0.98,0.16],[0.91,0.125],[0.03,0.15],[0.05,0.135],[0.19,0.155],[0.23,0.13],
    [0.11,0.1],[0.13,0.11],[0.21,0.085],[0.86,0.105],[0.88,0.1],[1.0,0.11],[0.57,0.05],[0.63,0.05]])
fdr_uc_dense = np.array([[0.0,0.39],[0.0,0.37],[0.0,0.33],[0.0,0.3],[0.0,0.26],[0.01,0.38],[0.01,0.36],[0.01,0.33],[0.01,0.29],[0.01,0.28],
    [0.02,0.4],[0.02,0.36],[0.02,0.32],[0.02,0.28],[0.02,0.25],[0.03,0.38],[0.03,0.33],[0.03,0.29],[0.04,0.39],[0.04,0.33],
    [0.04,0.29],[0.04,0.26],[0.05,0.36],[0.05,0.3],[0.05,0.26],[0.06,0.36],[0.06,0.32],[0.06,0.28],[0.07,0.39],[0.07,0.35],
    [0.07,0.32],[0.07,0.28],[0.08,0.31],[0.08,0.27],[0.09,0.35],[0.09,0.31],[0.09,0.25],[0.1,0.35],[0.1,0.32],[0.1,0.29],
    [0.11,0.3],[0.11,0.26],[0.12,0.33],[0.12,0.28],[0.12,0.25],[0.13,0.35],[0.13,0.31],[0.13,0.29],[0.14,0.28],[0.14,0.25],
    [0.15,0.36],[0.15,0.27],[0.16,0.32],[0.16,0.26],[0.17,0.29],[0.18,0.28],[0.18,0.26],[0.19,0.32],[0.2,0.29],[0.2,0.26],
    [0.22,0.29],[0.22,0.23],[0.24,0.28],[0.25,0.25],[0.27,0.29],[0.28,0.26],[0.29,0.22],[0.33,0.22],[0.36,0.28],[0.4,0.27],
    [0.43,0.3],[0.46,0.25],[0.5,0.28],[0.54,0.22],[0.61,0.28],[0.67,0.21],[0.72,0.27],[0.77,0.26],[0.82,0.25],[0.85,0.27],
    [0.88,0.22],[0.93,0.23],[0.95,0.27],[0.98,0.24],[0.97,0.2],[0.84,0.22],[0.75,0.29],[0.0,0.45],[0.0,0.5],[0.01,0.44]])
fdr_cd_line_x = [0.0, 1.0]
fdr_cd_line_y = [0.44, 0.27]
fdr_uc_line_x = [0.0, 1.0]
fdr_uc_line_y = [0.33, 0.24]

# panel g, HMP2 abundance vs bootstrapped abundance
boot_cd = np.array([[-3.7,0.16],[-2.4,0.05],[-2.2,0.05],[-1.5,0.2],[-2.0,-0.04],[-3.8,-0.52],[-2.7,-0.67],[-2.7,-0.71],[-2.4,-0.77],[-2.3,-0.3],
    [-2.0,-0.5],[-1.9,-0.37],[-1.7,-0.1],[-1.6,-0.2],[-1.4,-0.33],[-1.3,-0.02],[-1.0,-0.13],[-1.0,0.1],[-0.9,0.2],[-0.9,-0.02],
    [-0.7,-0.06],[-0.6,0.25],[-0.6,0.12],[-0.5,-0.02],[-0.5,-0.22],[-0.5,-0.4],[-0.4,0.05],[-0.4,-0.55],[-0.4,-0.7],[-0.3,-0.75],
    [-0.3,0.18],[-0.3,0.02],[-0.3,-0.1],[-0.3,-0.25],[-0.3,-0.35],[-0.2,-0.45],[-0.2,-0.6],[-0.2,0.3],[-0.1,0.2],[-0.1,0.1],
    [-0.1,-0.05],[-0.1,-0.15],[-0.1,-0.28],[-0.1,-0.42],[-0.1,-0.52],[-0.1,-0.66],[-0.1,-0.76],[0.0,0.36],[0.0,0.25],[0.0,0.15],
    [0.0,0.05],[0.0,-0.05],[0.0,-0.2],[0.0,-0.33],[0.0,-0.48],[0.0,-0.62],[0.1,0.33],[0.1,0.22],[0.1,0.12],[0.1,0.0],
    [0.1,-0.12],[0.1,-0.25],[0.2,0.4],[0.2,0.28],[0.2,0.17],[0.2,0.07],[0.2,-0.03],[0.2,-0.17],[0.3,-0.3],[0.3,0.5],
    [0.3,0.35],[0.3,0.22],[0.3,0.1],[0.3,0.0],[0.5,0.52],[0.5,0.42],[0.5,0.32],[0.5,0.2],[0.5,0.08],[0.5,-0.05],
    [0.7,0.62],[0.7,0.45],[0.7,0.35],[0.7,0.25],[0.7,0.15],[0.7,0.04],[0.5,-0.45],[0.9,0.5],[0.9,0.4],[0.9,0.28],
    [0.9,0.18],[0.9,0.1],[1.0,0.6],[1.1,0.45],[1.1,0.33],[1.1,0.22],[1.1,0.05],[1.2,0.65],[1.3,0.55],[1.3,0.4],
    [1.3,0.3],[1.3,0.18],[1.3,0.1],[1.5,0.62],[1.5,0.47],[1.5,0.35],[1.5,0.22],[1.6,0.12],[1.7,0.67],[1.8,0.52],
    [1.8,0.38],[1.8,0.25],[1.9,0.63],[2.0,0.42],[2.0,0.14],[2.1,0.05],[2.2,0.32],[2.3,0.22],[2.4,0.28],[2.6,0.12],
    [2.7,0.3],[2.8,0.68],[3.0,0.65],[3.0,0.54],[3.1,0.2],[3.3,0.3],[3.4,0.12],[3.6,0.3],[4.1,0.23],[4.2,0.47],
    [4.7,0.45],[4.9,0.1],[5.7,0.43],[5.7,0.24]])
boot_cd_dense = np.array([[-0.4,0.12],[-0.4,-0.03],[-0.2,0.22],[-0.2,0.08],[-0.2,-0.02],[-0.2,-0.14],[-0.2,-0.25],[-0.15,-0.35],[-0.05,0.3],[-0.05,0.02],
    [-0.05,-0.1],[-0.05,-0.22],[-0.05,-0.35],[-0.05,-0.56],[-0.25,-0.68],[0.05,0.28],[0.05,0.18],[0.05,0.09],[0.05,-0.02],[0.05,-0.16],
    [0.05,-0.28],[0.05,-0.4],[0.15,0.37],[0.15,0.25],[0.15,0.14],[0.15,0.03],[0.15,-0.08],[0.25,0.44],[0.25,0.31],[0.25,0.19],
    [0.25,0.08],[0.25,-0.06],[0.35,0.42],[0.35,0.28],[0.35,0.15],[0.35,0.05],[0.4,0.47],[0.4,0.36],[0.4,0.24],[0.4,0.12],
    [0.4,0.02],[0.6,0.57],[0.6,0.46],[0.6,0.37],[0.6,0.28],[0.6,0.17],[0.6,0.06],[0.6,-0.02],[0.8,0.55],[0.8,0.44],
    [0.8,0.34],[0.8,0.22],[0.8,0.12],[0.8,0.02],[1.0,0.5],[1.0,0.38],[1.0,0.27],[1.0,0.16],[1.0,0.08],[1.2,0.52],
    [1.2,0.42],[1.2,0.26],[1.2,0.14],[1.4,0.6],[1.4,0.5],[1.4,0.4],[1.4,0.28],[1.4,0.14],[1.6,0.55],[1.6,0.42],
    [1.6,0.3],[1.7,0.2],[1.9,0.46],[1.9,0.33],[2.1,0.25],[0.0,0.42],[-0.1,0.33],[0.15,0.48],[0.35,0.55],[0.55,0.63],
    [0.9,0.62],[0.2,-0.5],[0.1,-0.58],[0.0,-0.72],[-0.15,-0.25],[-0.25,-0.15]])
boot_uc = np.array([[15.5,1.17],[-5.6,0.25],[-3.6,0.08],[-2.2,0.11],[-1.4,0.11],[-2.3,-0.01],[-1.8,-0.02],[-1.3,-0.03],[-3.7,-0.22],[-3.4,-0.2],
    [-3.4,-0.29],[-3.0,-0.18],[-2.6,-0.18],[-2.4,-0.2],[-2.3,-0.28],[-3.8,-0.53],[-2.5,-0.52],[-2.3,-0.4],[-1.9,-0.3],[-1.8,-0.49],
    [-1.5,-0.45],[-2.1,-0.64],[-1.4,-0.65],[-4.2,-0.69],[-3.9,-0.7],[-3.8,-0.74],[-1.6,-0.74],[-1.6,-0.82],[-1.1,-0.75],[-0.3,-0.86],
    [-1.3,-0.99],[-1.0,-0.1],[-1.0,-0.3],[-1.0,-0.5],[-0.8,0.02],[-0.8,-0.18],[-0.8,-0.38],[-0.7,-0.6],[-0.6,0.18],[-0.6,-0.08],
    [-0.6,-0.28],[-0.6,-0.5],[-0.5,0.1],[-0.4,0.05],[-0.4,-0.12],[-0.4,-0.22],[-0.4,-0.42],[-0.4,-0.62],[-0.3,0.36],[-0.3,0.2],
    [-0.2,0.28],[-0.2,0.12],[-0.2,0.0],[-0.2,-0.15],[-0.2,-0.33],[-0.2,-0.5],[-0.1,0.22],[-0.1,0.06],[-0.1,-0.08],[0.0,0.46],
    [0.0,0.33],[0.0,0.15],[0.0,-0.02],[0.0,-0.22],[0.0,-0.42],[0.0,-0.58],[0.2,0.42],[0.2,0.27],[0.2,0.1],[0.2,-0.06],
    [0.2,-0.3],[0.2,-0.5],[0.4,0.38],[0.4,0.2],[0.4,0.05],[0.4,-0.12],[0.5,0.55],[0.5,0.32],[0.5,0.15],[0.5,0.0],
    [0.7,0.6],[0.7,0.47],[0.7,0.26],[0.7,0.08],[0.8,0.4],[0.8,0.18],[0.8,-0.05],[1.0,0.52],[1.0,0.33],[1.0,0.12],
    [1.1,0.7],[1.1,0.44],[1.1,0.25],[1.1,0.03],[1.3,0.64],[1.3,0.36],[1.3,0.18],[1.4,0.75],[1.4,0.55],[1.4,0.3],
    [1.5,0.08],[1.6,0.47],[1.6,0.22],[1.7,0.65],[1.8,0.38],[1.8,0.12],[2.0,0.54],[2.0,0.28],[2.1,0.02],[2.3,0.43],
    [2.4,0.2],[2.5,0.33],[2.6,0.1],[2.7,0.56],[3.0,0.68],[3.0,0.38],[3.2,0.75],[3.2,0.13],[3.3,0.65],[3.4,-0.05],
    [3.6,0.65],[3.6,0.34],[3.8,0.25],[4.0,0.35],[4.2,0.2],[4.4,0.4],[4.5,0.58],[4.6,0.6],[4.7,0.42],[4.7,0.25],
    [4.8,0.04],[5.2,0.23],[5.4,0.4],[5.5,0.27],[5.9,-0.03],[6.3,0.27],[7.3,-0.03]])
boot_uc_dense = np.array([[-0.1,0.35],[-0.1,-0.2],[-0.1,-0.36],[-0.1,-0.56],[0.1,0.38],[0.1,0.25],[0.1,0.16],[0.1,0.05],[0.1,-0.1],[0.1,-0.25],
    [0.1,-0.38],[0.1,-0.62],[0.3,0.47],[0.3,0.33],[0.3,0.2],[0.3,0.1],[0.3,-0.02],[0.3,-0.18],[0.3,-0.42],[0.6,0.5],
    [0.6,0.4],[0.6,0.3],[0.6,0.2],[0.6,0.1],[0.6,-0.02],[0.6,-0.2],[0.6,-0.48],[0.8,0.58],[0.8,0.5],[0.8,0.3],
    [0.8,0.08],[0.9,0.45],[0.9,0.36],[0.9,0.23],[0.9,0.13],[0.9,0.02],[1.0,0.6],[1.0,0.42],[1.0,0.2],[1.0,0.05],
    [1.2,0.65],[1.2,0.5],[1.2,0.4],[1.2,0.3],[1.2,0.14],[1.2,-0.02],[1.4,0.62],[1.4,0.46],[1.4,0.38],[1.4,0.22],
    [1.4,0.12],[1.6,0.58],[1.6,0.38],[1.6,0.3],[1.6,0.12],[1.8,0.52],[1.8,0.45],[1.8,0.28],[2.0,0.4],[2.0,0.18],
    [2.2,0.33],[2.2,0.12],[2.3,0.55],[-0.4,0.2],[-0.2,0.42],[0.1,0.55],[-0.5,-0.35],[-0.7,-0.2],[-0.3,-0.25],[-0.3,-0.55],
    [0.0,-0.12],[0.0,0.08],[0.0,0.25],[-0.9,-0.08],[-1.1,0.02],[-1.2,-0.2],[-1.4,-0.25]])
boot_cd_line_x = [-3.9, 0.0, 5.8]
boot_cd_line_y = [-0.58, 0.05, 0.98]
boot_cd_band = [0.05, 0.012, 0.07]
boot_uc_line_x = [-5.6, 0.0, 5.0, 10.0, 15.5]
boot_uc_line_y = [-0.68, 0.03, 0.66, 1.3, 2.0]
boot_uc_band = [0.07, 0.012, 0.03, 0.08, 0.13]


def make_axes(left, top, right, bottom):
    ax = fig.add_axes([left / W, 1 - bottom / H, (right - left) / W, (bottom - top) / H])
    for s in ax.spines.values():
        s.set_visible(False)
    ax.tick_params(which='both', length=0, labelsize=6.1, labelcolor=TICK, pad=2.5)
    ax.set_axisbelow(True)
    return ax


def add_grid(ax, xmajor, xminor, ymajor, yminor):
    ax.set_xticks(xmajor)
    ax.set_xticks(xminor, minor=True)
    ax.set_yticks(ymajor)
    ax.set_yticks(yminor, minor=True)
    ax.grid(which='major', color=GRID, lw=0.8)
    ax.grid(which='minor', color=GRID, lw=0.45)


def fig_text(x, y, s, **kw):
    kw.setdefault('ha', 'center')
    kw.setdefault('va', 'center')
    kw.setdefault('fontsize', 7.4)
    kw.setdefault('color', '#1A1A1A')
    fig.text(x / W, 1 - y / H, s, **kw)


def scatter(ax, pts, color, alpha=0.75, s=14):
    ax.scatter(pts[:, 0], pts[:, 1], s=s, color=color, alpha=alpha, linewidths=0, clip_on=False)


fig = plt.figure(figsize=(W / 100, H / 100), dpi=100)

# a
ax = make_axes(35, 28, 293, 263)
ax.set_xlim(-2.09, 2.07)
ax.set_ylim(-2.19, 2.74)
add_grid(ax, [-2, -1, 0, 1, 2], [-1.5, -0.5, 0.5, 1.5], [-2, -1, 0, 1, 2], [-1.5, -0.5, 0.5, 1.5, 2.5])
scatter(ax, umap_cd, PINK, 0.55)
scatter(ax, umap_nonibd, BLUE, 0.75)
scatter(ax, umap_uc, ORANGE, 0.65)
fig_text(166, 282, 'UMAP 1')
fig_text(11, 146, 'UMAP 2', rotation=90)

# b
for i, (pts, col, txtcol, names, lx, ly, links, facet, box, fx) in enumerate([
        (np.vstack([abund_cd, abund_cd_dense]), PINK, '#7A2238', b_cd_labels, b_cd_label_x, b_cd_label_y, b_cd_links, 'CD', (344, 531), 437),
        (np.vstack([abund_uc, abund_uc_dense]), ORANGE, '#4A3A24', b_uc_labels, b_uc_label_x, b_uc_label_y, b_uc_links, 'UC', (536, 723), 629)]):
    ax = make_axes(box[0], 30, box[1], 265)
    ax.set_xlim(-1.5, 1.69)
    ax.set_ylim(-0.038, 1.043)
    add_grid(ax, [-1, 0, 1], [-1.5, -0.5, 0.5, 1.5], [0, 0.25, 0.5, 0.75, 1], [0.125, 0.375, 0.625, 0.875])
    scatter(ax, pts, col, 0.85, 16)
    for x0, y0, x1, y1 in links:
        ax.plot([x0, x1], [y0, y1], color=col, lw=0.9)
    for name, x, y in zip(names, lx, ly):
        ax.text(x, y, name, ha='center', va='center', fontsize=7.5, color=txtcol, linespacing=1.15, clip_on=False)
    fig_text(fx, 21, facet, fontsize=6.1)
    if i == 0:
        ax.set_yticklabels(['0.00', '0.25', '0.50', '0.75', '1.00'])
    else:
        ax.tick_params(labelleft=False)
fig_text(533, 282, 'Differential abundance in disease compared to controls')
fig_text(313, 147, 'Consensus score', rotation=90)

# c
ax = make_axes(243, 333, 723, 552)
ax.set_xlim(-0.605, 3.605)
ax.set_ylim(-21.5, 425)
add_grid(ax, intersections, [], [0, 100, 200, 300, 400], [50, 150, 250, 350])
ax.tick_params(labelbottom=False)
xpos = np.array(intersections)
ax.bar(xpos - 0.225, cd_sizes, 0.45, color=PINK)
ax.bar(xpos + 0.225, uc_sizes, 0.45, color=ORANGE)
for x, v in zip(xpos, cd_sizes):
    ax.text(x - 0.25, v + 7, str(v), ha='center', va='bottom', fontsize=7.2, color='#1A1A1A')
for x, v in zip(xpos, uc_sizes):
    ax.text(x + 0.25, v + 7, str(v), ha='center', va='bottom', fontsize=7.2, color='#1A1A1A')
fig_text(212, 441, 'Intersection size', rotation=90)

# e
ax = make_axes(243, 552, 723, 660)
ax.set_xlim(-0.605, 3.605)
ax.set_ylim(-0.58, 1.58)
ax.set_xticks(intersections)
ax.set_yticks([0, 1])
ax.set_yticklabels(set_names)
ax.grid(axis='x', color=GRID, lw=0.8)
ax.tick_params(labelbottom=False, pad=3.5)
ax.axhspan(0.86, 1.14, color='#F0F0F0', zorder=0)
for i in intersections:
    for row in [0, 1]:
        on = row in members[i]
        ax.scatter(i, row, s=20 if on else 22, color='black' if on else '#D5D5D5', linewidths=0, zorder=3)
    if len(members[i]) > 1:
        ax.plot([i, i], [min(members[i]), max(members[i])], color='black', lw=1.1, zorder=3)
fig_text(483, 691, 'Intersection of metabolites by study')

# d
ax = make_axes(40, 552, 160, 660)
ax.set_xlim(190.5, -9.5)
ax.set_ylim(-0.58, 1.58)
add_grid(ax, [150, 100, 50, 0], [175, 125, 75, 25], [], [])
ax.grid(axis='y', visible=False)
ax.axhspan(0.86, 1.14, color='#F0F0F0', zorder=0)
ax.barh([0, 1], study_sizes, 0.4, color='#595959')
for t in ax.get_xticklabels():
    t.set_rotation(90)
    t.set_transform(t.get_transform() + ScaledTranslation(3 / 100, 0, fig.dpi_scale_trans))
fig_text(98, 685, 'Prioritized metabolites', fontsize=7.4)
fig_text(98, 697, 'per study', fontsize=7.4)

# f
for i, (pts, col, lx, ly, box, facet, fx, rx) in enumerate([
        (np.vstack([fdr_cd, fdr_cd_dense]), PINK, fdr_cd_line_x, fdr_cd_line_y, (40, 197), 'CD', 118.5, 0.037),
        (np.vstack([fdr_uc, fdr_uc_dense]), ORANGE, fdr_uc_line_x, fdr_uc_line_y, (202, 359), 'UC', 281, 0.014)]):
    ax = make_axes(box[0], 740, box[1], 973)
    ax.set_xlim(-0.049, 1.047)
    ax.set_ylim(-0.022, 1.05)
    add_grid(ax, [0, 0.25, 0.5, 0.75, 1], [0.125, 0.375, 0.625, 0.875], [0, 0.25, 0.5, 0.75, 1], [0.125, 0.375, 0.625, 0.875])
    ax.set_xticklabels(['0.00', '0.25', '0.50', '0.75', '1.00'])
    scatter(ax, pts, col, 0.9, 15)
    ax.plot(lx, ly, color=col, lw=1.6)
    ax.text(rx, 1.0, '$\\it{R}$ = \u22120.47 , $\\it{p}$ < 2.2e\u221216', color=col, fontsize=7.5, va='center')
    fig_text(fx, 733, facet, fontsize=6.1)
    if i == 0:
        ax.set_yticklabels(['0.00', '0.25', '0.50', '0.75', '1.00'])
    else:
        ax.tick_params(labelleft=False)
fig_text(200, 993, 'FDR\u2212adjusted p\u2212value in original HMP2 study')
fig_text(11, 857, 'Consensus score', rotation=90)

# g
for i, (pts, col, lx, ly, band, box, facet, fx, rx, r) in enumerate([
        (np.vstack([boot_cd, boot_cd_dense]), PINK, boot_cd_line_x, boot_cd_line_y, boot_cd_band, (403, 560), 'CD', 482, -5.5, '0.75'),
        (np.vstack([boot_uc, boot_uc_dense]), ORANGE, boot_uc_line_x, boot_uc_line_y, boot_uc_band, (566, 723), 'UC', 644, -5.44, '0.72')]):
    ax = make_axes(box[0], 740, box[1], 972)
    ax.set_xlim(-6.6, 16.6)
    ax.set_ylim(-1.11, 2.29)
    add_grid(ax, [-5, 0, 5, 10, 15], [-2.5, 2.5, 7.5, 12.5], [-1, 0, 1, 2], [-0.5, 0.5, 1.5])
    scatter(ax, pts, col, 0.85, 16)
    lx = np.array(lx)
    ly = np.array(ly)
    band = np.array(band)
    ax.fill_between(lx, ly - band, ly + band, color='#999999', alpha=0.4, linewidth=0, zorder=3)
    ax.plot(lx, ly, color=col, lw=1.6, zorder=4)
    ax.text(rx, 2.0, '$\\it{R}$ = ' + r + ' , $\\it{p}$ < 2.2e\u221216', color=col, fontsize=7.5, va='center')
    fig_text(fx, 733, facet, fontsize=6.1)
    if i == 1:
        ax.tick_params(labelleft=False)
fig_text(563, 993, 'Differential Abundance in original HMP2 study')
fig_text(380, 857, 'Bootstrapped differential abundance', rotation=90)

# legends
fig_text(739, 441, 'diagnosis', ha='left')
for name, col, y in [('CD', PINK, 459), ('nonIBD', BLUE, 475), ('UC', ORANGE, 491)]:
    fig.add_artist(plt.Line2D([746.5 / W], [1 - y / H], marker='o', ms=2.5, color=col, mew=0, ls=''))
    fig_text(760, y, name, ha='left', fontsize=6.0)
fig_text(741.5, 525, 'diagnosis', ha='left')
for name, col, y in [('CD', PINK, 535.5), ('UC', ORANGE, 552)]:
    fig.add_artist(Rectangle((742 / W, 1 - (y + 15.5) / H), 15.5 / W, 15.5 / H, transform=fig.transFigure, color=col, lw=0))
    fig_text(763, y + 7.5, name, ha='left', fontsize=6.0)

# panel letters
for s, x, y in [('a', 4, 8), ('b', 309, 8), ('c', 175, 331), ('d', 4, 546), ('e', 174, 546), ('f', 4, 718), ('g', 374, 718)]:
    fig_text(x, y, s, fontsize=11, fontweight='bold', color='black')

fig.savefig('out.png', dpi=100)
